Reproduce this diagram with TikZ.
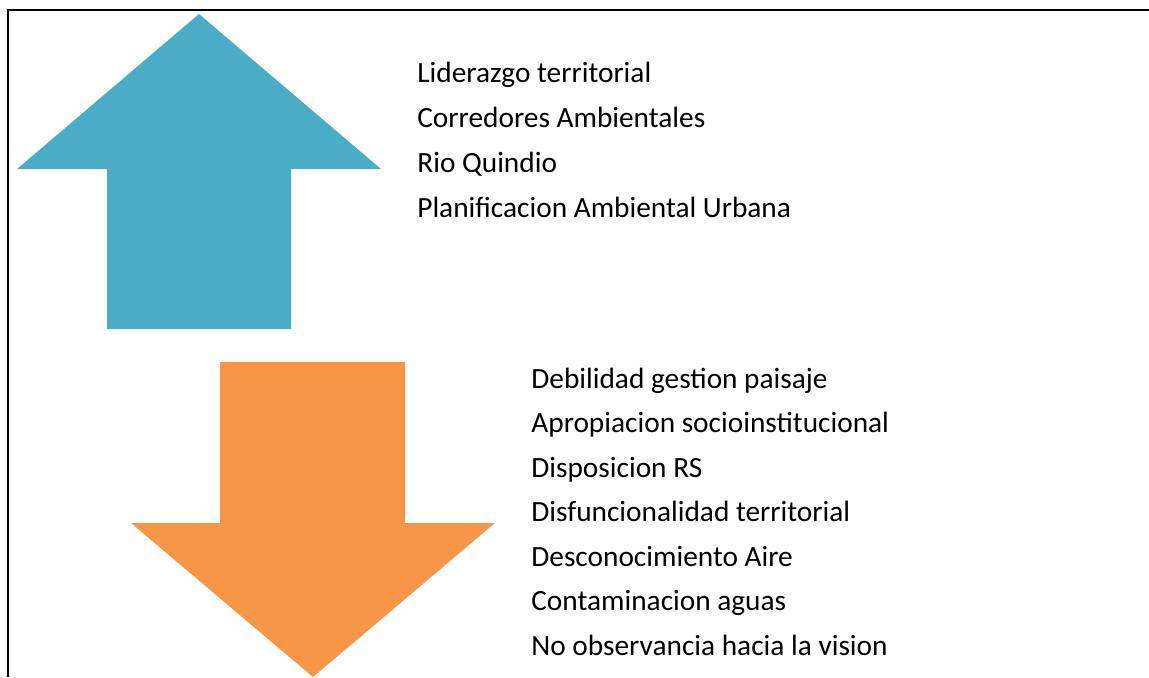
\documentclass[tikz,border=0pt]{standalone}
\usepackage{fontspec}
\setmainfont{Carlito}
\usetikzlibrary{positioning}
\definecolor{upblue}{HTML}{4BACC6}
\definecolor{downorange}{HTML}{F79646}
\tikzset{
item/.style={anchor=base west, inner sep=0pt, font=\fontsize{16.7}{20}\selectfont},
uparrow/.style={fill=upblue, draw=none},
downarrow/.style={fill=downorange, draw=none}
}

\begin{document}
\begin{tikzpicture}[x=0.02cm,y=-0.02cm]
\useasboundingbox (0,0) rectangle (1149,677);
\draw[line width=1.2pt] (8,677) -- (8,10) -- (1149,10);

\fill[uparrow] (199,14) -- (381,169) -- (291,169) -- (291,329)
  -- (107,329) -- (107,169) -- (17,169) -- cycle;
\fill[downarrow] (220,362) -- (405,362) -- (405,523) -- (495,523)
  -- (313,677) -- (131,523) -- (220,523) -- cycle;

\node[item] (up1) at (417,82) {Liderazgo territorial};
\node[item] (up2) at (417,127) {Corredores Ambientales};
\node[item] (up3) at (417,172) {Rio Quindio};
\node[item] (up4) at (417,217) {Planificacion Ambiental Urbana};

\node[item] (dn1) at (531,388) {Debilidad gestion paisaje};
\node[item] (dn2) at (531,432.5) {Apropiacion socioinstitucional};
\node[item] (dn3) at (531,477) {Disposicion RS};
\node[item] (dn4) at (531,521.5) {Disfuncionalidad territorial};
\node[item] (dn5) at (531,566) {Desconocimiento Aire};
\node[item] (dn6) at (531,610.5) {Contaminacion aguas};
\node[item] (dn7) at (531,655) {No observancia hacia la vision};
\end{tikzpicture}
\end{document}
